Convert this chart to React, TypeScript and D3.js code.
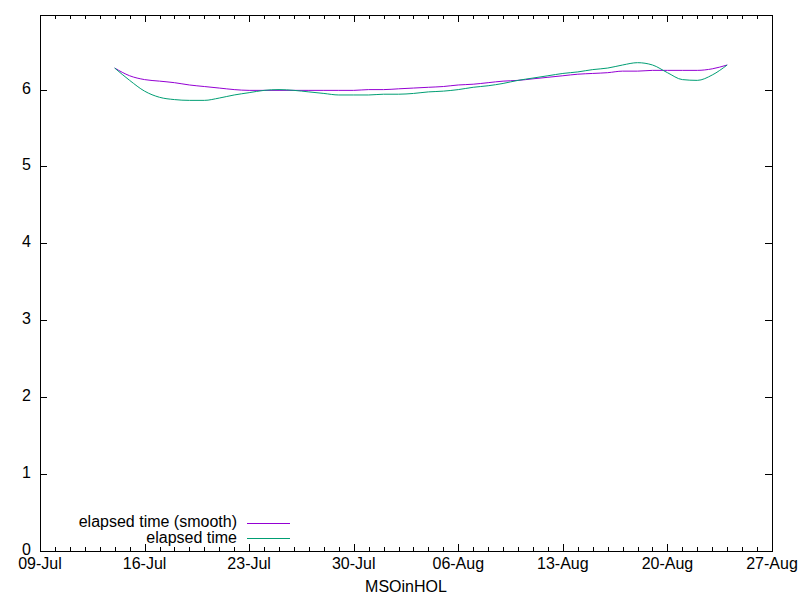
import * as d3 from "d3";
import { useMemo } from "react";

// daily samples, 14-Jul .. 24-Aug
const startDate = "2024-07-14";
const smoothValues = [
  6.28, 6.18, 6.13, 6.11, 6.09, 6.06, 6.04, 6.02, 6.0, 5.99,
  5.99, 5.99, 5.99, 5.99, 5.99, 5.99, 5.99, 6.0, 6.0, 6.01,
  6.02, 6.03, 6.04, 6.06, 6.07, 6.09, 6.11, 6.12, 6.14, 6.16,
  6.18, 6.2, 6.21, 6.22, 6.24, 6.24, 6.25, 6.25, 6.25, 6.25,
  6.27, 6.32,
];
const elapsedValues = [
  6.28, 6.12, 5.98, 5.9, 5.87, 5.86, 5.86, 5.89, 5.93, 5.96,
  5.99, 6.0, 5.99, 5.97, 5.95, 5.93, 5.93, 5.93, 5.94, 5.94,
  5.95, 5.97, 5.98, 6.0, 6.03, 6.05, 6.08, 6.12, 6.15, 6.18,
  6.21, 6.23, 6.26, 6.28, 6.32, 6.35, 6.32, 6.22, 6.13, 6.12,
  6.19, 6.32,
];
const xTickLabels = ["09-Jul", "16-Jul", "23-Jul", "30-Jul", "06-Aug", "13-Aug", "20-Aug", "27-Aug"];
const yTicks = [0, 1, 2, 3, 4, 5, 6];
const seriesNames = ["elapsed time (smooth)", "elapsed time"];
const seriesColors = ["#9400d3", "#009e73"];

const parse = d3.utcParse("%Y-%m-%d");

function App() {
  const width = 800;
  const height = 600;
  const margin = { top: 15, right: 28, bottom: 49, left: 40 };
  const x0 = margin.left;
  const x1 = width - margin.right;
  const y0 = height - margin.bottom;
  const y1 = margin.top;

  const xDomain: [Date, Date] = [parse("2024-07-09")!, parse("2024-08-27")!];
  const xScale = useMemo(() => d3.scaleUtc().domain(xDomain).range([x0, x1]), []);
  const yScale = useMemo(() => d3.scaleLinear().domain([0, 6.97]).range([y0, y1]), []);

  const start = parse(startDate)!;
  const toPoints = (vals: number[]) =>
    vals.map((v, i) => ({ date: d3.utcDay.offset(start, i), value: v }));
  const series = [toPoints(smoothValues), toPoints(elapsedValues)];

  const line = d3
    .line<{ date: Date; value: number }>()
    .x((d) => xScale(d.date))
    .y((d) => yScale(d.value))
    .curve(d3.curveMonotoneX);

  const tickEnd = d3.utcDay.offset(xDomain[1], 1);
  const majorTicks = d3.utcDay.range(xDomain[0], tickEnd, 7);
  const minorTicks = d3.utcDay.range(xDomain[0], tickEnd);
  const fmt = d3.utcFormat("%d-%b");

  const font = "'Liberation Sans', Arial, sans-serif";
  const px = (v: number) => Math.round(v) + 0.5;

  return (
    <div style={{ position: "fixed", left: 0, top: 0, width, height, background: "#fff" }}>
      <svg width={width} height={height} style={{ display: "block" }} fontFamily={font} fontSize={16}>
        <rect width={width} height={height} fill="#fff" />
        {/* gnuplot style border with mirrored ticks */}
        <g stroke="#000" strokeWidth={1} shapeRendering="crispEdges">
          {minorTicks.map((d, i) => (
            <g key={"m" + i}>
              <line x1={px(xScale(d))} x2={px(xScale(d))} y1={y0} y2={y0 - 4} />
              <line x1={px(xScale(d))} x2={px(xScale(d))} y1={y1} y2={y1 + 4} />
            </g>
          ))}
          {majorTicks.map((d, i) => (
            <g key={"M" + i}>
              <line x1={px(xScale(d))} x2={px(xScale(d))} y1={y0} y2={y0 - 7} />
              <line x1={px(xScale(d))} x2={px(xScale(d))} y1={y1} y2={y1 + 7} />
            </g>
          ))}
          {yTicks.map((t) => (
            <g key={"y" + t}>
              <line x1={x0} x2={x0 + 7} y1={px(yScale(t))} y2={px(yScale(t))} />
              <line x1={x1} x2={x1 - 7} y1={px(yScale(t))} y2={px(yScale(t))} />
            </g>
          ))}
          <rect x={x0 + 0.5} y={y1 + 0.5} width={x1 - x0} height={y0 - y1} fill="none" />
        </g>
        <g fill="#000">
          {majorTicks.map((d, i) => (
            <text key={"xl" + i} x={xScale(d)} y={y0 + 18} textAnchor="middle">
              {xTickLabels[i] ?? fmt(d)}
            </text>
          ))}
          {yTicks.map((t) => (
            <text key={"yl" + t} x={31} y={yScale(t) + 4} textAnchor="end">
              {t}
            </text>
          ))}
          <text x={(x0 + x1) / 2} y={592} textAnchor="middle">
            MSOinHOL
          </text>
        </g>
        {series.map((s, i) => (
          <path key={i} d={line(s) ?? ""} fill="none" stroke={seriesColors[i]} strokeWidth={1} />
        ))}
        {/* key */}
        {seriesNames.map((name, i) => (
          <g key={"k" + i}>
            <text x={237} y={527 + i * 16} textAnchor="end" fill="#000">
              {name}
            </text>
            <line x1={247} x2={290} y1={523.5 + i * 15} y2={523.5 + i * 15} stroke={seriesColors[i]} />
          </g>
        ))}
      </svg>
    </div>
  );
}

export default App;
